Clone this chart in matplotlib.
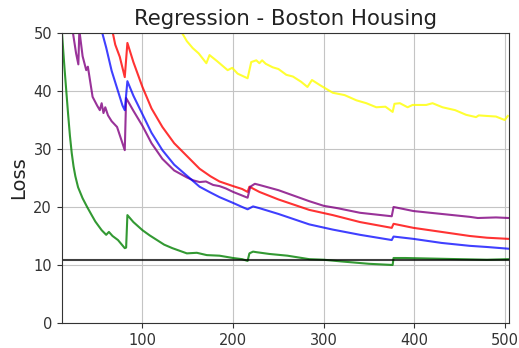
import numpy as np
import matplotlib
matplotlib.use('Agg')
import matplotlib.pyplot as plt

#%% loss curves (epoch, loss)

green_x = [11, 14, 18, 20, 22, 24, 26, 29, 34, 39, 44, 48, 55, 60, 63, 67, 73, 80.5, 82, 83.4, 90, 100,
           108, 116, 124, 133, 149, 160, 171, 185, 200, 210, 216, 218, 222, 226, 240, 260, 284, 300,
           320, 350, 376, 377, 390, 420, 450, 480, 504]
green_y = [50.5, 44, 36, 32.3, 29.3, 27.0, 25.3, 23.4, 21.5, 20.0, 18.6, 17.5, 16.0, 15.2, 15.7, 15.0,
           14.3, 12.9, 13.0, 18.6, 17.4, 16.0, 15.1, 14.3, 13.5, 12.9, 12.0, 12.1, 11.7, 11.6, 11.2,
           11.0, 10.7, 12.0, 12.3, 12.2, 11.9, 11.6, 11.0, 10.9, 10.6, 10.2, 10.0, 11.2, 11.2, 11.1,
           11.0, 10.9, 11.0]

blue_x = [54, 60, 66, 72, 78, 80.5, 83.4, 90, 100, 110, 122, 135, 149, 163, 175, 185, 200, 210, 216,
          222, 229, 250, 284, 310, 340, 375, 377, 399, 430, 461, 480, 504]
blue_y = [51, 47.5, 43.5, 40.5, 37.5, 36.7, 41.7, 39.2, 36.0, 32.8, 29.8, 27.3, 25.4, 23.5, 22.5, 21.7,
          20.7, 20.0, 19.6, 20.1, 19.8, 18.8, 17.0, 16.1, 15.2, 14.3, 14.9, 14.5, 13.8, 13.3, 13.1, 12.8]

red_x = [66, 70, 75, 80.5, 83.4, 90, 100, 110, 122, 135, 149, 163, 175, 185, 200, 210, 216, 218, 229,
         250, 284, 310, 340, 375, 377, 399, 430, 461, 480, 504]
red_y = [51, 48.0, 45.9, 42.4, 48.3, 45.0, 40.7, 37.0, 33.8, 31.0, 28.8, 26.6, 25.3, 24.4, 23.6, 23.1,
         22.6, 23.5, 22.6, 21.3, 19.5, 18.6, 17.4, 16.4, 17.1, 16.4, 15.7, 15.0, 14.7, 14.5]

purple_x = [22.4, 26.8, 29.3, 30.4, 34, 38, 39.8, 45, 50, 53, 55, 57, 59, 62, 66, 72, 80.5, 82, 90, 100,
            110, 122, 135, 149, 156, 163, 170, 178, 185, 192, 200, 216, 219, 224, 229, 250, 284, 300,
            315, 340, 375, 377, 399, 430, 461, 470, 490, 504]
purple_y = [51, 46.5, 44.6, 50.5, 46, 43.6, 44.2, 39, 37.5, 36.7, 37.9, 36.2, 37.2, 35.8, 34.8, 33.8,
            29.8, 38.8, 36.6, 34.0, 31.0, 28.3, 26.3, 25.1, 24.6, 24.3, 24.4, 23.8, 23.6, 23.2, 22.6,
            21.6, 23.5, 24.0, 23.8, 22.9, 21.0, 20.2, 19.8, 19.0, 18.4, 20.0, 19.3, 18.8, 18.3, 18.1,
            18.2, 18.1]

yellow_x = [140, 143, 149, 155.5, 162, 170.5, 174, 182, 194, 199, 205, 216, 220, 225.6, 229, 232, 236,
            243.6, 250, 258.7, 266, 275, 282, 287, 296, 310, 323, 336, 347, 358, 368, 376, 378, 384,
            392.5, 398, 405, 413, 420, 431, 445, 457, 468, 471, 480, 490, 499.6, 503]
yellow_y = [51, 50.2, 48.6, 47.4, 46.5, 44.8, 46.2, 45.2, 43.6, 44.0, 43.0, 42.2, 45.0, 45.3, 44.8, 45.3,
            44.7, 44.1, 43.8, 42.8, 42.5, 41.6, 40.7, 41.9, 41.0, 39.7, 39.3, 38.4, 37.9, 37.2, 37.3,
            36.4, 37.8, 37.9, 37.2, 37.6, 37.6, 37.6, 37.9, 37.2, 36.7, 35.9, 35.5, 35.8, 35.7, 35.6,
            35.0, 35.7]

baseline = 10.9

#%% plot

fig, ax = plt.subplots(figsize=(5.19, 3.48), dpi=100)
fig.subplots_adjust(left=0.119, right=0.981, bottom=0.072, top=0.905)

ax.plot(yellow_x, yellow_y, color='yellow', lw=1.5, alpha=0.8)
ax.plot(red_x, red_y, color='red', lw=1.5, alpha=0.8)
ax.plot(purple_x, purple_y, color='purple', lw=1.5, alpha=0.8)
ax.plot(blue_x, blue_y, color='blue', lw=1.5, alpha=0.75)
ax.plot(green_x, green_y, color='green', lw=1.5, alpha=0.8)
ax.axhline(baseline, color='k', lw=1.5, alpha=0.75)

ax.set_xlim(11, 504.5)
ax.set_ylim(0, 50)
ax.set_xticks([100, 200, 300, 400, 500])
ax.set_yticks([0, 10, 20, 30, 40, 50])
ax.tick_params(labelsize=10.5, colors='#333333', labelcolor='#333333')
ax.grid(True, color='#c4c4c4', lw=0.8)
for s in ax.spines.values():
    s.set_color('#333333')

ax.set_ylabel('Loss', fontsize=14, color='#222222')
ax.set_title('Regression - Boston Housing', fontsize=15.3, color='#222222')

fig.savefig('out.png', dpi=100)
